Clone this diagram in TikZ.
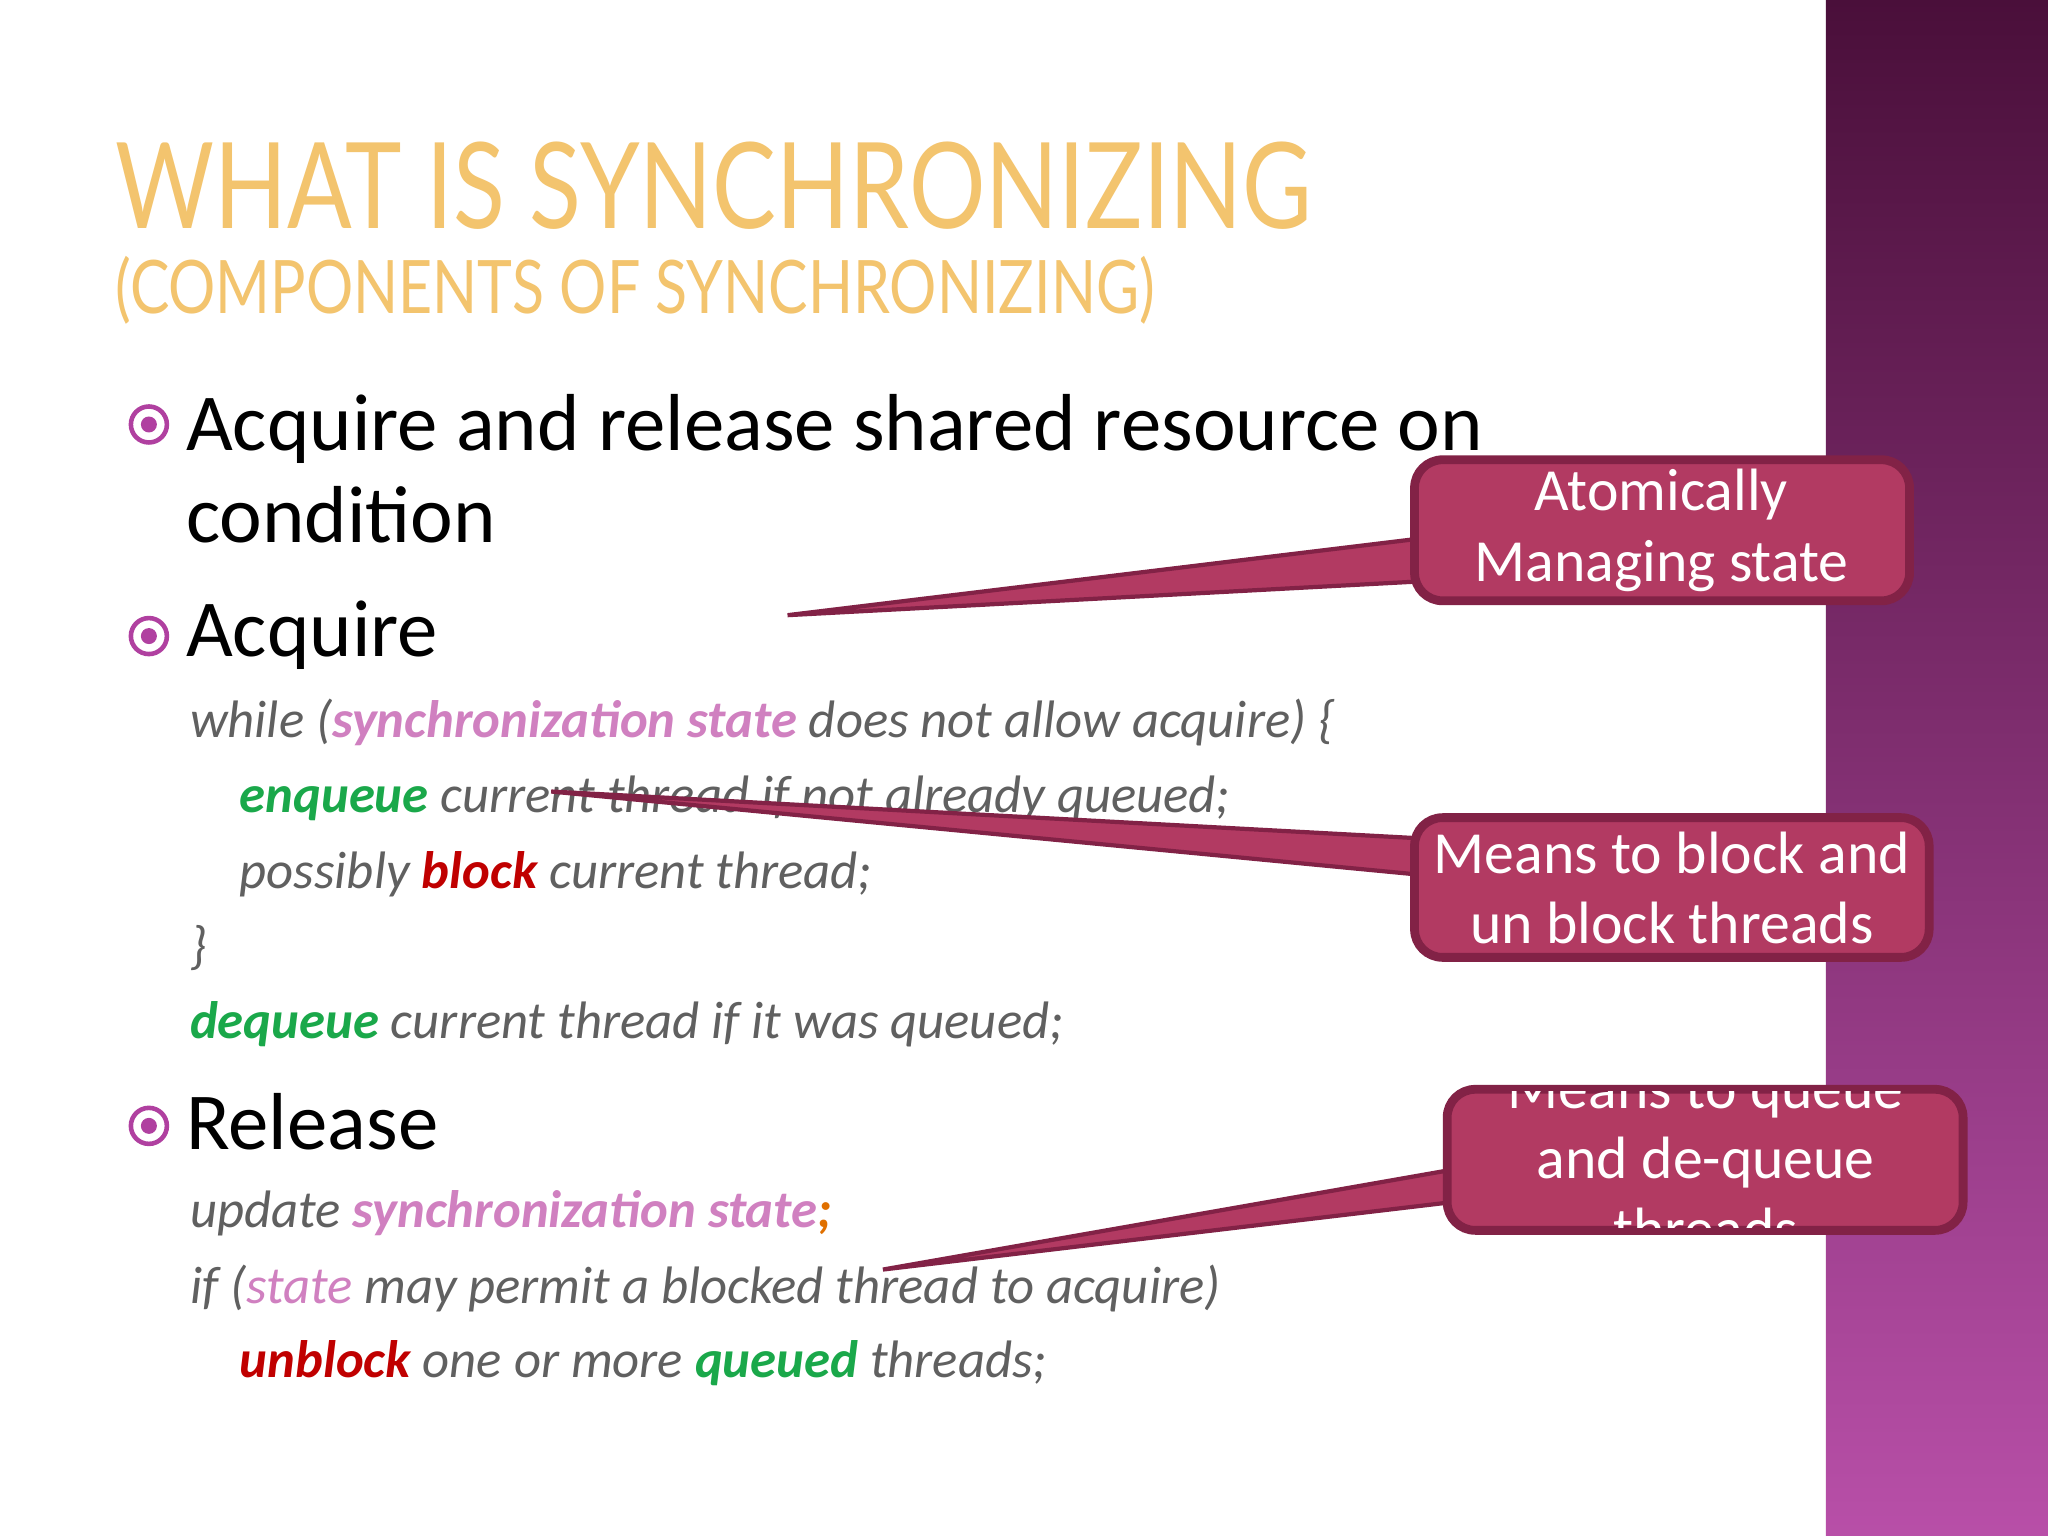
\documentclass[tikz,border=0pt]{standalone}
\usepackage{fontspec}
\setmainfont{Carlito}
\newfontfamily\titlefont{Lato}
\usetikzlibrary{positioning,calc}
\definecolor{gold}{RGB}{243,196,110}
\definecolor{codegray}{RGB}{96,96,96}
\definecolor{syncpink}{RGB}{208,128,192}
\definecolor{qgreen}{RGB}{26,168,74}
\definecolor{bred}{RGB}{192,0,0}
\definecolor{semiorange}{RGB}{224,112,0}
\definecolor{callfill}{RGB}{178,58,98}
\definecolor{callline}{RGB}{130,34,70}
\definecolor{bulletc}{RGB}{176,64,160}
\tikzset{
    title/.style = {anchor=base west, text=gold, font=\titlefont\fontsize{34}{34}\selectfont, inner sep=0pt},
    bullettext/.style = {anchor=base west, font=\fontsize{23}{23}\selectfont, inner sep=0pt},
    code/.style = {anchor=base west, text=codegray, font=\fontsize{15}{15}\selectfont\itshape, inner sep=0pt},
    callout/.style = {draw=callline, line width=2.5pt, fill=callfill, rounded corners=8pt},
    calltext/.style = {text=white, align=center, font=\fontsize{17}{20}\selectfont},
    pointer/.style = {fill=callfill, draw=callline, line width=1.2pt},
    dot/.style = {circle, draw=bulletc, line width=1.3pt, minimum size=0.36cm, inner sep=0pt}
}
\newcommand{\kw}[2]{\textbf{\textcolor{#1}{#2}}}
\begin{document}
\begin{tikzpicture}[x=0.01306cm, y=-0.01306cm]
    \useasboundingbox (0,0) rectangle (1568,1176);
    \fill[white] (0,0) rectangle (1398,1176);
    \shade[top color={rgb,255:red,74;green,15;blue,58}, bottom color={rgb,255:red,184;green,79;blue,168}] (1398,0) rectangle (1568,1176);
    % title
    \node[title, xscale=0.8] (head) at (88,175) {WHAT IS SYNCHRONIZING};
    \node[title, xscale=0.8, font=\titlefont\fontsize{21}{21}\selectfont] (sub) at (88,240) {(COMPONENTS OF SYNCHRONIZING)};
    % bullets
    \foreach \y/\n in {325/b1, 487/b2, 862/b3} {
        \node[dot] (\n) at (114,\y) {};
        \fill[bulletc] (\n) circle (0.08cm);
    }
    \node[bullettext] (t1) at (142,345) {Acquire and release shared resource on};
    \node[bullettext] (t1b) at (142,415) {condition};
    \node[bullettext] (t2) at (142,503) {Acquire};
    \node[bullettext] (t3) at (142,880) {Release};
    % code
    \node[code] (c1) at (145,565) {while (\kw{syncpink}{synchronization state} does not allow acquire) \{};
    \node[code] (c2) at (183,622) {\kw{qgreen}{enqueue} current thread if not already queued;};
    \node[code] (c3) at (183,680) {possibly \kw{bred}{block} current thread;};
    \node[code] (c4) at (145,738) {\}};
    \node[code] (c5) at (145,795) {\kw{qgreen}{dequeue} current thread if it was queued;};
    \node[code] (c6) at (145,940) {update \kw{syncpink}{synchronization state}\kw{semiorange}{;}};
    \node[code] (c7) at (145,998) {if (\textcolor{syncpink}{state} may permit a blocked thread to acquire)};
    \node[code] (c8) at (183,1055) {\kw{bred}{unblock} one or more \kw{qgreen}{queued} threads;};
    % callouts
    \coordinate (p1) at (603,471);
    \coordinate (p2) at (422,606);
    \coordinate (p3) at (676,972);
    \draw[pointer] (1090,412) -- (p1) -- (1090,445) -- cycle;
    \draw[callout] (1083,352) rectangle (1462,460);
    \node[calltext] (a1) at (1272,406) {Atomically\\Managing state};
    \draw[pointer] (1090,642) -- (p2) -- (1090,670) -- cycle;
    \draw[callout] (1083,626) rectangle (1477,733);
    \node[calltext] (a2) at (1280,680) {Means to block and\\un block threads};
    \draw[pointer] (1115,895) -- (p3) -- (1115,920) -- cycle;
    \draw[callout] (1108,834) rectangle (1503,942);
    \begin{scope}
        \clip (1108,836) rectangle (1503,940);
        \node[calltext] (a3) at (1306,888) {Means to queue\\and de-queue\\threads};
    \end{scope}
\end{tikzpicture}
\end{document}
